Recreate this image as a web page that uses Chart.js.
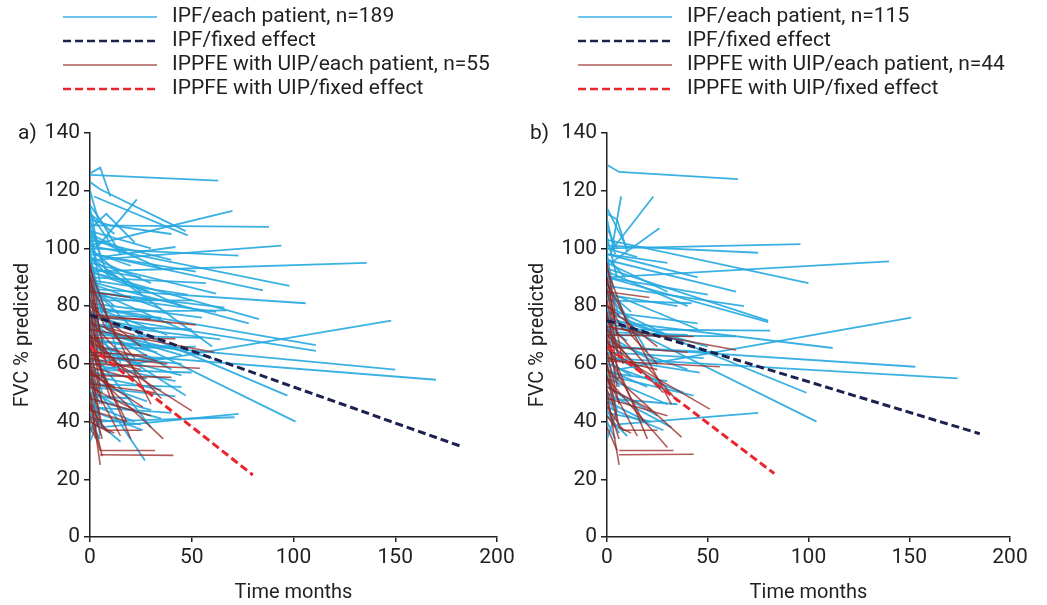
<!DOCTYPE html>
<html>
<head>
<meta charset="utf-8">
<script src="https://cdn.jsdelivr.net/npm/chart.js@4/dist/chart.umd.min.js"></script>
<style>
  html, body { margin: 0; padding: 0; background: #fff; }
  #wrap { display: flex; width: 1047px; height: 605px; }
  #boxA { position: relative; width: 520px; height: 605px; }
  #boxB { position: relative; width: 527px; height: 605px; }
</style>
</head>
<body>
<div id="wrap">
  <div id="boxA"><canvas id="chartA"></canvas></div>
  <div id="boxB"><canvas id="chartB"></canvas></div>
</div>
<script>
// axis ticks
const xTicks = [0, 50, 100, 150, 200];
const yTicks = [0, 20, 40, 60, 80, 100, 120, 140];

// each patient: [month, FVC, month, FVC, ...]
const ipfA = [
  [0,125.5, 63,123.5], [0,126, 5,128, 10,118], [0,123, 5,120.5, 47,106], [2,118, 48,104.5],
  [3,100, 23,117], [0,101, 70,113], [0,108, 88,107.5], [2,96, 94,101], [0,100, 73,97.5],
  [5,97, 42,100.5], [0,92, 136,95], [0,101, 98,87], [2,98, 85,85.5], [0,86, 106,81],
  [0,92, 83,75.5], [3,88, 78,74], [0,85, 66,79.5], [5,58, 148,75], [0,80, 111,66.5],
  [0,77, 111,64.5], [0,68, 150,58], [0,64, 170,54.5], [0,78, 97,49], [0,75, 101,40],
  [5,38, 73,42.7], [3,40, 71,41.5], [0,55, 27,26.5], [0,110, 10,108, 40,105],
  [0,112, 12,105], [0,110, 6,95], [0,105, 18,99], [0,97, 30,88], [0,95, 62,84.3],
  [0,90, 57,88], [0,94, 45,80], [0,88, 35,79], [0,84, 62,78], [0,82, 50,82],
  [0,80, 40,74], [0,78, 67,78.5], [0,76, 30,72], [0,74, 64,68.5], [0,72, 45,63],
  [0,70, 55,69], [0,68, 40,66], [0,66, 25,60], [0,63, 45,60], [0,62, 20,57],
  [0,60, 42,54], [0,58, 50,57], [0,56, 35,51], [0,70, 47,49], [0,54, 28,47],
  [0,52, 42,48.7], [0,50, 30,44], [0,48, 35,41], [0,46, 22,40], [0,44, 26,37],
  [0,42, 15,33], [0,65, 30,38], [0,100, 25,85], [0,104, 35,93], [0,99, 20,94],
  [2,108, 8,112, 22,102], [0,115, 6,109, 15,98], [0,120, 4,110], [0,89, 10,70, 40,58],
  [0,86, 45,72], [0,92, 28,85], [0,76, 12,62, 45,56], [0,36, 5,45], [0,33, 4,40],
  [0,58, 5,35], [0,72, 60,62], [0,80, 38,70], [0,97, 60,66], [0,87, 30,66],
  [0,114, 4,100], [0,108, 3,96], [0,104, 5,88], [0,99, 4,82], [0,95, 6,78],
  [0,91, 3,84], [0,87, 5,70], [0,83, 4,72], [0,79, 6,64], [0,75, 3,68],
  [0,71, 5,58], [0,67, 4,62], [0,63, 6,50], [0,59, 3,52], [0,55, 5,46],
  [0,51, 4,42], [0,47, 6,38], [0,43, 3,38], [0,39, 5,34], [1,106, 8,92, 18,88],
  [1,96, 10,90], [2,86, 12,80], [1,74, 10,70], [2,66, 14,64], [1,58, 9,54],
  [2,50, 12,46], [0,112, 9,103],
  [0,103, 40,96], [0,98, 52,92], [0,93, 25,90], [0,89, 48,84], [0,85, 30,82],
  [0,81, 55,76], [0,77, 35,76], [0,73, 50,72], [0,69, 33,64], [0,65, 52,66],
  [0,61, 38,62], [0,57, 28,55], [0,53, 45,52], [0,49, 20,48], [0,45, 40,43],
  [0,41, 25,39], [0,106, 30,100], [0,96, 15,60]
];
const ippfeA = [
  [0,76, 30,75.4], [0,77, 52,73.5], [0,69, 42,68.7], [0,72, 61,64], [0,60, 54,58.5],
  [0,56, 40,55.3], [0,66, 50,43.7], [0,58, 36,34], [5,30, 32,30], [5,28.5, 41,28.3],
  [0,50, 5,25], [0,93, 12,70, 22,62], [0,88, 30,46], [0,85, 20,83], [0,80, 25,66],
  [0,75, 35,48], [0,70, 28,50], [0,65, 18,40], [0,62, 25,58], [0,55, 15,35],
  [0,52, 22,44], [0,48, 30,42], [0,45, 8,37, 25,37], [0,60, 6,38, 12,36], [0,68, 20,34],
  [0,40, 10,36], [0,78, 6,55], [0,90, 8,60], [0,63, 38,60], [0,57, 26,45],
  [0,46, 6,28], [0,72, 15,58], [0,67, 33,61],
  [0,95, 4,78], [0,91, 5,70], [0,87, 3,74], [0,83, 6,62], [0,79, 4,66],
  [0,74, 5,52], [0,70, 3,60], [0,66, 6,46], [0,62, 4,50], [0,58, 5,40],
  [0,54, 3,46], [0,50, 6,34], [0,46, 4,38], [0,42, 5,30], [0,38, 3,34],
  [1,82, 8,72, 16,70], [1,68, 10,62], [2,56, 12,52],
  [0,74, 22,70], [0,64, 28,63], [0,59, 20,55], [0,53, 32,50], [0,44, 18,40], [0,70, 10,48]
];
const ipfFixedA = [0,77, 182,31.5];
const ippfeFixedA = [0,66, 80,21.5];

const ipfB = [
  [0,129, 6,126.5, 65,124], [3,100, 23,118], [2,98, 7,118], [0,112, 5,110, 10,99],
  [2,95, 26,107], [0,100, 96,101.5], [0,101, 75,98.5], [0,90, 140,95.5], [0,103, 100,88],
  [0,96, 64,85], [0,87, 68,80], [0,82, 42,81], [0,93, 80,75], [0,90, 80,74.5],
  [0,72, 81,71.5], [5,58, 151,76], [0,70, 64,69.5], [0,75, 112,65.5], [0,66, 153,59],
  [0,62, 174,55], [0,78, 99,50], [0,76, 104,40], [5,39, 75,43], [0,62, 46,57],
  [0,56, 43,49], [0,114, 10,100], [0,107, 5,100], [0,100, 15,97], [0,95, 30,85],
  [0,92, 40,80], [0,85, 45,72], [0,80, 30,70], [0,76, 50,66], [0,74, 38,68],
  [0,70, 25,60], [0,68, 40,58], [0,64, 30,52], [0,60, 38,50], [0,58, 20,52],
  [0,55, 30,46], [0,52, 25,42], [0,50, 32,38], [0,47, 20,40], [0,45, 28,37],
  [0,42, 10,35], [0,34, 5,44], [0,88, 20,64], [0,84, 10,76], [0,66, 55,64], [0,98, 45,90],
  [0,110, 4,98], [0,104, 5,90], [0,98, 3,86], [0,92, 6,76], [0,86, 4,74],
  [0,80, 5,64], [0,74, 3,66], [0,68, 6,52], [0,62, 4,54], [0,56, 5,44],
  [0,50, 3,44], [0,44, 6,36], [0,40, 4,34], [1,96, 9,90], [2,84, 12,78],
  [1,72, 10,68], [2,60, 12,56], [1,52, 9,48],
  [0,98, 30,95], [0,90, 50,84], [0,84, 35,80], [0,78, 45,74], [0,71, 40,70],
  [0,64, 48,62], [0,57, 30,54], [0,48, 35,46], [0,43, 22,40]
];
const ippfeB = [
  [0,85, 21,83], [0,70, 43,69.5], [0,73, 64,64.8], [0,61, 56,59], [0,65, 51,44.3],
  [0,58, 37,34.6], [6,30, 33,30], [6,28.5, 43,28.7], [0,50, 6,25], [0,55, 30,31],
  [0,93, 12,70, 25,60], [0,88, 32,46], [0,80, 25,66], [0,75, 35,47], [0,70, 28,50],
  [0,64, 18,40], [0,62, 25,58], [0,55, 15,35], [0,48, 30,42], [0,45, 8,37, 25,37],
  [0,78, 6,55], [0,68, 20,34], [0,66, 40,64], [0,72, 15,58], [0,52, 22,44],
  [0,90, 8,60], [0,60, 6,38, 12,36],
  [0,95, 4,78], [0,90, 5,70], [0,86, 3,74], [0,82, 6,62], [0,77, 4,66],
  [0,73, 5,52], [0,69, 3,60], [0,64, 6,46], [0,60, 4,50], [0,56, 5,40],
  [0,51, 3,46], [0,47, 6,34], [0,42, 4,38], [0,38, 5,30], [1,80, 8,72, 16,70],
  [1,67, 10,62]
];
const ipfFixedB = [0,75, 185,35.8];
const ippfeFixedB = [0,66, 83,22];

const textColor = '#231f20';
const fontFamily = 'Roboto, "Liberation Sans", sans-serif';

// group styles
const sty = {
  ipf:    { color: 'rgba(38,168,224,0.9)', width: 1.8, dash: [], order: 4 },
  ipfFx:  { color: '#1d2150', width: 3, dash: [8, 4], order: 2 },
  ipp:    { color: 'rgba(150,38,34,0.75)', width: 1.6, dash: [], order: 3 },
  ippFx:  { color: '#e8262c', width: 3, dash: [8, 4], order: 1 }
};

function toPts(p) {
  const pts = [];
  for (let i = 0; i < p.length; i += 2) pts.push({ x: p[i], y: p[i + 1] });
  return pts;
}

function mkSet(p, s) {
  return {
    data: toPts(p),
    borderColor: s.color,
    borderWidth: s.width,
    borderDash: s.dash,
    pointRadius: 0,
    fill: false,
    tension: 0,
    order: s.order
  };
}

// legend + panel letter drawn above the plot
const overlay = {
  id: 'overlay',
  afterDraw(chart, args, o) {
    const ctx = chart.ctx;
    ctx.save();
    ctx.font = '21px ' + fontFamily;
    ctx.fillStyle = textColor;
    ctx.textBaseline = 'middle';
    ctx.fillText(o.panel, o.panelX, 134);
    o.items.forEach((it, i) => {
      const y = 17 + i * 24;
      ctx.strokeStyle = it.s.color;
      ctx.lineWidth = it.s === sty.ipp ? 1.2 : (it.s.width > 2 ? 2.5 : 1.6);
      ctx.setLineDash(it.s.dash);
      ctx.beginPath();
      ctx.moveTo(o.x0, y);
      ctx.lineTo(o.x0 + 94, y);
      ctx.stroke();
      ctx.setLineDash([]);
      ctx.fillText(it.text, o.x0 + 109, y);
    });
    ctx.restore();
  }
};

function makeChart(id, ipf, ipp, ipfFx, ippFx, padL, yW, padR, panel, panelX, x0, nIpf, nIpp) {
  const datasets = [
    mkSet(ippFx, sty.ippFx),
    mkSet(ipfFx, sty.ipfFx),
    ...ipp.map(p => mkSet(p, sty.ipp)),
    ...ipf.map(p => mkSet(p, sty.ipf))
  ];
  const tickFont = { family: fontFamily, size: 21 };
  return new Chart(document.getElementById(id), {
    type: 'line',
    data: { datasets },
    plugins: [overlay],
    options: {
      responsive: true,
      maintainAspectRatio: false,
      animation: false,
      events: [],
      layout: { padding: { left: padL, right: padR, top: 133, bottom: 0 } },
      plugins: {
        legend: { display: false },
        tooltip: { enabled: false },
        overlay: {
          panel, panelX, x0,
          items: [
            { s: sty.ipf, text: 'IPF/each patient, n=' + nIpf },
            { s: sty.ipfFx, text: 'IPF/fixed effect' },
            { s: sty.ipp, text: 'IPPFE with UIP/each patient, n=' + nIpp },
            { s: sty.ippFx, text: 'IPPFE with UIP/fixed effect' }
          ]
        }
      },
      scales: {
        x: {
          type: 'linear',
          min: xTicks[0],
          max: xTicks[xTicks.length - 1],
          afterBuildTicks: s => { s.ticks = xTicks.map(v => ({ value: v })); },
          afterFit: s => { s.height = 68; },
          ticks: { font: tickFont, color: textColor, padding: 3, maxRotation: 0 },
          grid: { drawOnChartArea: false, tickLength: 5, color: textColor, lineWidth: 1.5 },
          border: { color: textColor, width: 1.5 },
          title: { display: true, text: 'Time months', color: textColor,
                   font: { family: fontFamily, size: 20 }, padding: { top: 0, bottom: 0 } }
        },
        y: {
          type: 'linear',
          min: yTicks[0],
          max: yTicks[yTicks.length - 1],
          afterBuildTicks: s => { s.ticks = yTicks.map(v => ({ value: v })); },
          afterFit: s => { s.width = yW; },
          ticks: { font: tickFont, color: textColor, padding: 4 },
          grid: { drawOnChartArea: false, tickLength: 6, color: textColor, lineWidth: 1.5 },
          border: { color: textColor, width: 1.5 },
          title: { display: true, text: 'FVC % predicted', color: textColor,
                   font: { family: fontFamily, size: 20 }, padding: { top: 0, bottom: 0 } }
        }
      }
    }
  });
}

makeChart('chartA', ipfA, ippfeA, ipfFixedA, ippfeFixedA, 11, 79, 23, 'a)', 18, 63, 189, 55);
makeChart('chartB', ipfB, ippfeB, ipfFixedB, ippfeFixedB, 6, 81, 37, 'b)', 10, 58, 115, 44);
</script>
</body>
</html>
